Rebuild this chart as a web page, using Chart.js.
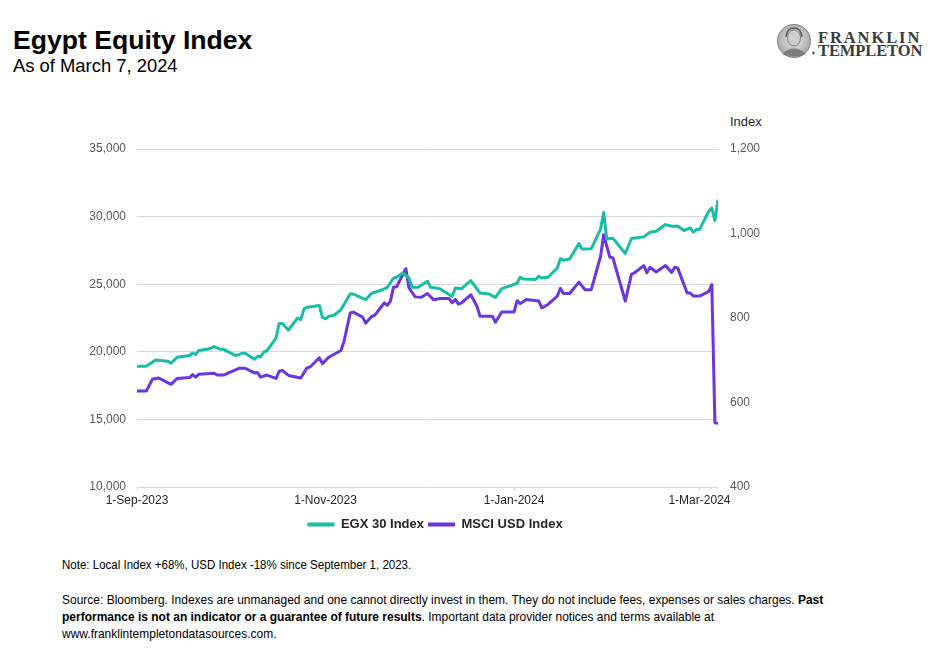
<!DOCTYPE html>
<html>
<head>
<meta charset="utf-8">
<script src="https://cdn.jsdelivr.net/npm/chart.js@4.4.1/dist/chart.umd.min.js"></script>
<style>
  html, body { margin: 0; padding: 0; background: #fff; }
  body { width: 940px; height: 661px; position: relative; overflow: hidden; font-family: "Liberation Sans", Arial, sans-serif; color: #000; }
  .abs { position: absolute; white-space: nowrap; line-height: 1; }
  #title { left: 13px; top: 27px; font-size: 26.6px; font-weight: bold; }
  #subtitle { left: 13px; top: 57px; font-size: 18.4px; }
  #idx { left: 730px; top: 115px; font-size: 13px; color: #262626; }
  #wrap { position: absolute; left: 0; top: 100px; width: 940px; height: 450px; }
  .note { position: absolute; left: 62px; font-size: 13.4px; color: #000; white-space: nowrap; line-height: 17px; transform-origin: 0 0; }
  #logo { position: absolute; left: 774px; top: 24px; }
  .lt { position: absolute; left: 818px; font-family: "Liberation Serif", "DejaVu Serif", serif; font-size: 16.5px; font-weight: bold; color: #3a3a3a; line-height: 1; white-space: nowrap; }
</style>
</head>
<body>
<div id="title" class="abs">Egypt Equity Index</div>
<div id="subtitle" class="abs">As of March 7, 2024</div>
<div id="idx" class="abs">Index</div>

<svg id="logo" width="44" height="36" viewBox="0 0 44 36">
  <defs>
    <radialGradient id="g" cx="50%" cy="45%" r="55%">
      <stop offset="0%" stop-color="#eeeeee"/>
      <stop offset="100%" stop-color="#a5a5a5"/>
    </radialGradient>
  </defs>
  <circle cx="20" cy="17" r="16.5" fill="url(#g)" stroke="#808080" stroke-width="1"/>
  <ellipse cx="20" cy="14" rx="6.5" ry="8" fill="#cfcfcf" stroke="#666" stroke-width="0.8"/>
  <path d="M8 30 Q20 19 32 30 Q20 35 8 30 Z" fill="#7d7d7d"/>
  <path d="M12 13 Q13 4 20 4 Q27 4 28 13" fill="none" stroke="#5a5a5a" stroke-width="1.6"/>
  <circle cx="39.5" cy="29" r="1.4" fill="#666"/>
</svg>
<div class="lt" style="top:30px; letter-spacing:1.9px;">FRANKLIN</div>
<div class="lt" style="top:43px; letter-spacing:-0.1px;">TEMPLETON</div>

<div id="wrap"><canvas id="c"></canvas></div>

<div class="note" style="top:556px; transform: scaleX(0.86);">Note: Local Index +68%, USD Index -18% since September 1, 2023.</div>
<div class="note" style="top:591px; transform: scaleX(0.895);">Source: Bloomberg. Indexes are unmanaged and one cannot directly invest in them. They do not include fees, expenses or sales charges. <b>Past</b><br><b>performance is not an indicator or a guarantee of future results</b>. Important data provider notices and terms available at<br>www.franklintempletondatasources.com.</div>

<script>
// x values are calendar days since 1-Sep-2023
const egxDays = [0,3,6,10,11,13,17,18,19,20,23,25,27,28,32,34,35,38,39,40,41,42,45,46,47,49,52,53,54,55,59,60,61,62,64,66,69,70,74,76,77,80,81,83,84,86,88,89,91,94,95,98,101,102,103,105,108,109,111,114,116,118,121,123,124,125,129,130,131,133,136,137,138,140,143,144,147,150,151,152,154,158,160,164,166,168,171,173,175,177,179,180,181,182,185,186,187,188];
const egxValues = [18930,18930,19400,19300,19150,19600,19720,19910,19800,20100,20200,20380,20180,20180,19720,19890,19890,19450,19670,19620,19990,20060,21020,22100,22100,21610,22500,22380,23160,23290,23430,22550,22450,22620,22740,23110,24300,24270,23860,24350,24400,24650,24770,25460,25510,25830,25460,24770,24770,25220,24770,24670,24230,24100,24720,24670,25260,24960,24350,24270,24020,24670,24890,25080,25510,25390,25340,25590,25460,25510,26200,26890,26770,26870,28000,27600,27630,29080,30310,28340,28400,27270,28380,28500,28850,28920,29410,29290,29290,28970,29160,28850,29040,29040,30390,30630,29700,31250];

const msciDays = [0,3,5,7,11,13,17,18,19,20,25,26,28,33,35,38,39,40,42,45,46,47,49,53,55,56,59,60,62,66,67,69,70,73,74,76,77,80,81,82,83,84,87,88,90,92,94,96,98,101,102,103,104,105,108,110,111,115,116,118,121,122,123,124,126,130,131,133,136,137,138,140,143,145,147,150,151,153,154,158,160,161,164,165,166,168,171,173,174,175,178,179,180,182,184,185,186,187,188];
const msciValues = [627,627,655,658,643,657,659,666,660,667,669,665,665,681,681,670,671,660,665,657,674,676,664,658,682,684,706,692,707,723,745,812,814,802,788,804,807,836,830,840,873,874,917,871,850,849,858,843,846,846,836,844,833,836,855,828,804,804,790,814,814,814,841,834,844,840,824,832,852,870,858,858,885,867,867,946,997,944,942,840,904,907,924,907,920,909,924,908,920,918,859,859,852,852,859,863,879,552,551];

const xTickDays = [0, 61, 122, 182];
const xTickLabels = ['1-Sep-2023', '1-Nov-2023', '1-Jan-2024', '1-Mar-2024'];
const leftTicks = [10000, 15000, 20000, 25000, 30000, 35000];
const rightTicks = [400, 600, 800, 1000, 1200];
const seriesNames = ['EGX 30 Index', 'MSCI USD Index'];
const seriesColors = ['#17BEA6', '#6A35E3'];

const fmt = v => v.toLocaleString('en-US');

const legendShift = {
  id: 'legendShift',
  afterLayout(chart) {
    const lg = chart.legend;
    if (lg) { lg.left -= 35; lg.right -= 35; }
  }
};

new Chart(document.getElementById('c'), {
  type: 'line',
  data: {
    datasets: [
      { label: seriesNames[0], data: egxDays.map((d, i) => ({ x: d, y: egxValues[i] })), yAxisID: 'yL',
        borderColor: seriesColors[0], backgroundColor: seriesColors[0], borderWidth: 3, pointRadius: 0, tension: 0, borderJoinStyle: 'round' },
      { label: seriesNames[1], data: msciDays.map((d, i) => ({ x: d, y: msciValues[i] })), yAxisID: 'yR',
        borderColor: seriesColors[1], backgroundColor: seriesColors[1], borderWidth: 3, pointRadius: 0, tension: 0, borderJoinStyle: 'round' }
    ]
  },
  plugins: [legendShift],
  options: {
    responsive: true,
    maintainAspectRatio: false,
    animation: false,
    layout: { padding: { top: 49, bottom: 9, left: 0, right: 0 } },
    plugins: {
      tooltip: { enabled: false },
      legend: {
        position: 'bottom',
        labels: {
          boxWidth: 27, boxHeight: 4, padding: 4,
          color: '#262626',
          font: { family: '"Liberation Sans", Arial, sans-serif', size: 13, weight: 'bold' },
          generateLabels: chart => chart.data.datasets.map((ds, i) => ({
            text: ds.label, fillStyle: ds.borderColor, strokeStyle: ds.borderColor, lineWidth: 0,
            hidden: false, datasetIndex: i, fontColor: '#262626'
          }))
        }
      }
    },
    scales: {
      x: {
        type: 'linear', min: 0, max: 188,
        afterBuildTicks: s => { s.ticks = xTickDays.map(v => ({ value: v })); },
        afterFit: s => { s.height = 27; },
        ticks: {
          callback: v => xTickLabels[xTickDays.indexOf(v)],
          color: '#262626', padding: 2, maxRotation: 0, autoSkip: false,
          font: { family: '"Liberation Sans", Arial, sans-serif', size: 12 }
        },
        grid: { drawOnChartArea: false, tickLength: 4, color: '#d9d9d9' },
        border: { display: false }
      },
      yL: {
        position: 'left', min: 10000, max: 35000,
        afterBuildTicks: s => { s.ticks = leftTicks.map(v => ({ value: v })); },
        afterFit: s => { s.width = 137; },
        ticks: { callback: v => fmt(v), color: '#595959', padding: 11,
          font: { family: '"Liberation Sans", Arial, sans-serif', size: 12 } },
        grid: { color: '#d9d9d9', lineWidth: 1, drawTicks: false },
        border: { display: false }
      },
      yR: {
        position: 'right', min: 400, max: 1200,
        afterBuildTicks: s => { s.ticks = rightTicks.map(v => ({ value: v })); },
        afterFit: s => { s.width = 222; },
        ticks: { callback: v => fmt(v), color: '#595959', padding: 12,
          font: { family: '"Liberation Sans", Arial, sans-serif', size: 12 } },
        grid: { drawOnChartArea: false, drawTicks: false },
        border: { display: false }
      }
    }
  }
});
</script>
</body>
</html>
